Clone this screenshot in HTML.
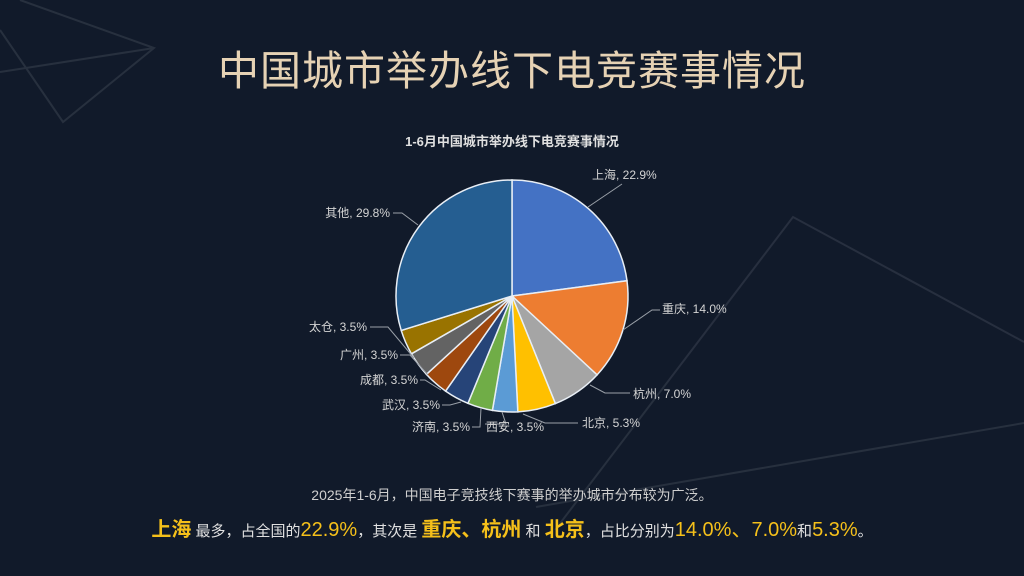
<!DOCTYPE html>
<html><head><meta charset="utf-8"><style>
html,body{margin:0;padding:0;width:1024px;height:576px;overflow:hidden;background:#111a2a;font-family:"Liberation Sans","Noto Sans CJK SC",sans-serif;}
.t{position:absolute;left:0;width:1024px;text-align:center;}
</style></head><body>
<svg width="1024" height="576" style="position:absolute;left:0;top:0">
<g stroke="#3a4250" stroke-width="2" fill="none" opacity="0.55">
<polyline points="20,0 154,48 63,122 0,30"/>
<line x1="0" y1="72" x2="154" y2="48"/>
<polyline points="1024,342 793,217 555,530"/>
<line x1="1024" y1="423" x2="536" y2="507"/>
</g>
<g id="pie" stroke="#e8eef5" stroke-width="1.5"></g>
<g stroke="#9aa0a8" stroke-width="1" fill="none">
<polyline points="588,207 622,184"/>
<polyline points="623,330 652,310 660,310"/>
<polyline points="590,385 605,393 630,393"/>
<polyline points="523,414 545,423 578,423"/>
<polyline points="502,412 506,424 485,424"/>
<polyline points="481,408 480,427 472,427"/>
<polyline points="461,402 450,405 442,405"/>
<polyline points="441,390 425,380 420,380"/>
<polyline points="428,375 410,355 400,355"/>
<polyline points="414,358 388,327 370,327"/>
<polyline points="418,225 402,213 393,213"/>
</g>
<g fill="#d4d4d4" font-size="12" font-family="Liberation Sans,Noto Sans CJK SC,sans-serif">
<text x="592" y="179">上海, 22.9%</text>
<text x="662" y="313">重庆, 14.0%</text>
<text x="633" y="398">杭州, 7.0%</text>
<text x="582" y="427">北京, 5.3%</text>
<text x="486" y="431">西安, 3.5%</text>
<text x="470" y="431" text-anchor="end">济南, 3.5%</text>
<text x="440" y="409" text-anchor="end">武汉, 3.5%</text>
<text x="418" y="384" text-anchor="end">成都, 3.5%</text>
<text x="398" y="359" text-anchor="end">广州, 3.5%</text>
<text x="367" y="331" text-anchor="end">太仓, 3.5%</text>
<text x="390" y="217" text-anchor="end">其他, 29.8%</text>
</g>
</svg>
<div class="t" style="top:37px;font-size:41px;color:#e6d2b4;letter-spacing:1px;">中国城市举办线下电竞赛事情况</div>
<div class="t" style="top:131px;font-size:13px;font-weight:bold;color:#e0e0e0;">1-6月中国城市举办线下电竞赛事情况</div>
<div class="t" style="top:485px;font-size:14px;color:#cfcfcf;">2025年1-6月，中国电子竞技线下赛事的举办城市分布较为广泛。</div>
<div class="t" style="top:513px;font-size:15px;color:#e0e0e0;white-space:nowrap;"><b style="color:#f5c01a;font-size:20px">上海</b> 最多，占全国的<span style="color:#f5c01a;font-size:20px">22.9%</span>，其次是 <b style="color:#f5c01a;font-size:20px">重庆、杭州</b> 和 <b style="color:#f5c01a;font-size:20px">北京</b>，占比分别为<span style="color:#f5c01a;font-size:20px">14.0%、7.0%</span>和<span style="color:#f5c01a;font-size:20px">5.3%</span>。</div>
<script>
var d=[[22.9,"#4472C4"],[14,"#ED7D31"],[7,"#A5A5A5"],[5.3,"#FFC000"],[3.5,"#5B9BD5"],[3.5,"#70AD47"],[3.5,"#264478"],[3.5,"#9E480E"],[3.5,"#636363"],[3.5,"#997300"],[29.8,"#255E91"]];
var cx=512,cy=296,r=116,a=0,g=document.getElementById('pie'),s='';
d.forEach(function(v){var a2=a+v[0]/100*2*Math.PI;
var x1=cx+r*Math.sin(a),y1=cy-r*Math.cos(a),x2=cx+r*Math.sin(a2),y2=cy-r*Math.cos(a2);
s+='<path fill="'+v[1]+'" d="M'+cx+','+cy+'L'+x1+','+y1+'A'+r+','+r+' 0 '+(a2-a>Math.PI?1:0)+' 1 '+x2+','+y2+'Z"/>';a=a2;});
g.innerHTML=s;
</script>
</body></html>
